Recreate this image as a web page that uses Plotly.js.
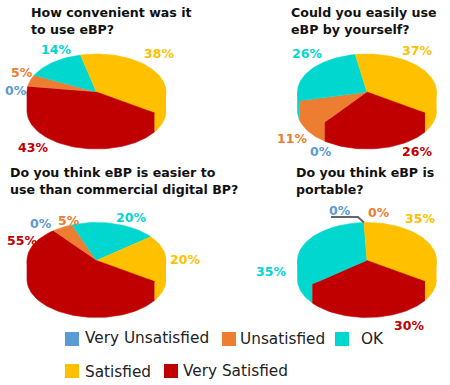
<!DOCTYPE html>
<html>
<head>
<meta charset="utf-8">
<script src="https://cdn.plot.ly/plotly-3.0.1.min.js"></script>
<style>html,body{margin:0;padding:0;background:#fff}#chart{width:450px;height:385px}</style>
</head>
<body>
<div id="chart"></div>
<script>
// Survey responses: share of answers per question, in percent.
const categories = ["Very Unsatisfied", "Unsatisfied", "OK", "Satisfied", "Very Satisfied"];
const convenientValues = [0, 5, 14, 38, 43];
const byYourselfValues = [0, 11, 26, 37, 26];
const easierValues = [0, 5, 20, 20, 55];
const portableValues = [0, 0, 35, 35, 30];
const questions = [
  ["How convenient was it", "to use eBP?"],
  ["Could you easily use", "eBP by yourself?"],
  ["Do you think eBP is easier to", "use than commercial digital BP?"],
  ["Do you think eBP is", "portable?"]
];

// Styling and layout.
const colors = ["#5B9BD5", "#ED7D31", "#01D6CF", "#FFC000", "#C00000"];
const FONT = "DejaVu Sans, Verdana, sans-serif";
const RX = 69.5, RY = 38, DEPTH = 19;
// Clockwise angle of the Satisfied / Very Satisfied boundary in every pie.
const BOUNDARY_ANGLE = 123.5;
const pies = [
  {values: convenientValues, cx: 96.5, cy: 92, title: [28.5, 12],
   labels: [[16, 90], [22, 72], [55.5, 49], [158.5, 53], [32.5, 147]]},
  {values: byYourselfValues, cx: 367, cy: 92, title: [288.5, 12],
   labels: [[321, 151], [291.5, 138], [307, 53], [417, 50], [417, 151]]},
  {values: easierValues, cx: 96.5, cy: 260.5, title: [7.5, 172],
   labels: [[40.5, 223], [68.5, 220], [130.5, 217], [184.5, 259], [21.5, 240]]},
  {values: portableValues, cx: 367, cy: 260.5, title: [293.5, 172],
   labels: [[339.5, 210], [379, 212], [271, 271], [419.5, 218], [408.5, 325]]}
];
const legendSlots = [
  {swatch: [72, 339], text: [83, 338]},
  {swatch: [229, 339], text: [238, 339]},
  {swatch: [342, 339], text: [359, 339]},
  {swatch: [72, 371], text: [83, 372]},
  {swatch: [171, 371], text: [181, 371]}
];

const traces = [];
const annotations = [];

function rim(pie, deg, drop, scale) {
  const t = deg * Math.PI / 180;
  const k = scale === undefined ? 1 : scale;
  return [pie.cx + k * RX * Math.sin(t), pie.cy - k * RY * Math.cos(t) + drop];
}

function arc(pie, from, to, drop, scale) {
  const steps = Math.max(1, Math.ceil(Math.abs(to - from) / 2));
  const out = [];
  for (let i = 0; i <= steps; i++) out.push(rim(pie, from + (to - from) * i / steps, drop, scale));
  return out;
}

function addPolygon(points, color) {
  traces.push({
    type: "scatter", mode: "lines", fill: "toself", fillcolor: color,
    x: points.map(p => p[0]), y: points.map(p => p[1]),
    line: {color: color, width: 0.6}, hoverinfo: "skip", showlegend: false
  });
}

// Each slice is swept clockwise from north; the rim wall is only visible on the near half.
// The wall's upper edge runs slightly inside the top face so no seam shows between them.
function drawPie(pie) {
  const total = pie.values.reduce((a, b) => a + b, 0);
  const share = 360 / total;
  const beforeBoundary = pie.values.slice(0, 4).reduce((a, b) => a + b, 0);
  let angle = BOUNDARY_ANGLE - beforeBoundary * share;
  const sectors = pie.values.map((v, i) => {
    const s = {from: angle, to: angle + v * share, color: colors[i], value: v};
    angle = s.to;
    return s;
  });
  pie.sectors = sectors;

  sectors.forEach(s => {
    for (let k = -1; k <= 1; k++) {
      const a = Math.max(s.from, 90 + 360 * k);
      const b = Math.min(s.to, 270 + 360 * k);
      if (b > a) {
        addPolygon(
          arc(pie, a, b, DEPTH)
            .concat([rim(pie, b, 0)])
            .concat(arc(pie, b, a, 0, 0.9))
            .concat([rim(pie, a, 0)]),
          s.color
        );
      }
    }
  });
  sectors.forEach(s => {
    if (s.to > s.from) addPolygon([[pie.cx, pie.cy]].concat(arc(pie, s.from, s.to, 0)), s.color);
  });

  pie.values.forEach((v, i) => {
    annotations.push({
      x: pie.labels[i][0], y: pie.labels[i][1], xref: "x", yref: "y",
      text: "<b>" + v + "%</b>", showarrow: false, xanchor: "center", yanchor: "middle",
      font: {family: FONT, size: 12.5, color: colors[i]}
    });
  });

  pie.question.forEach((line, n) => {
    annotations.push({
      x: pie.title[0], y: pie.title[1] + n * 17, xref: "x", yref: "y",
      text: "<b>" + line + "</b>", showarrow: false, xanchor: "left", yanchor: "middle",
      font: {family: FONT, size: 12.6, color: "#111111"}
    });
  });
}

pies.forEach((pie, i) => { pie.question = questions[i]; drawPie(pie); });

// Leader line from the empty slice's label to where the "OK" and "Satisfied" slices meet.
const lastPie = pies[3];
const tip = rim(lastPie, lastPie.sectors[3].from, 0);
traces.push({
  type: "scatter", mode: "lines",
  x: [331, 358, tip[0]], y: [217, 217, tip[1]],
  line: {color: "#666666", width: 2}, hoverinfo: "skip", showlegend: false
});

// Legend laid out on two rows under the pies.
categories.forEach((name, i) => {
  traces.push({
    type: "scatter", mode: "markers",
    x: [legendSlots[i].swatch[0]], y: [legendSlots[i].swatch[1]],
    marker: {symbol: "square", size: 14, color: colors[i]},
    hoverinfo: "skip", showlegend: false
  });
  annotations.push({
    x: legendSlots[i].text[0], y: legendSlots[i].text[1], xref: "x", yref: "y",
    text: name, showarrow: false, xanchor: "left", yanchor: "middle",
    font: {family: FONT, size: 15.3, color: "#222222"}
  });
});

Plotly.newPlot("chart", traces, {
  width: 450, height: 385,
  margin: {l: 0, r: 0, t: 0, b: 0},
  paper_bgcolor: "#ffffff", plot_bgcolor: "#ffffff",
  showlegend: false,
  xaxis: {range: [0, 450], visible: false, fixedrange: true},
  yaxis: {range: [385, 0], visible: false, fixedrange: true},
  annotations: annotations
}, {displayModeBar: false, staticPlot: true});
</script>
</body>
</html>
